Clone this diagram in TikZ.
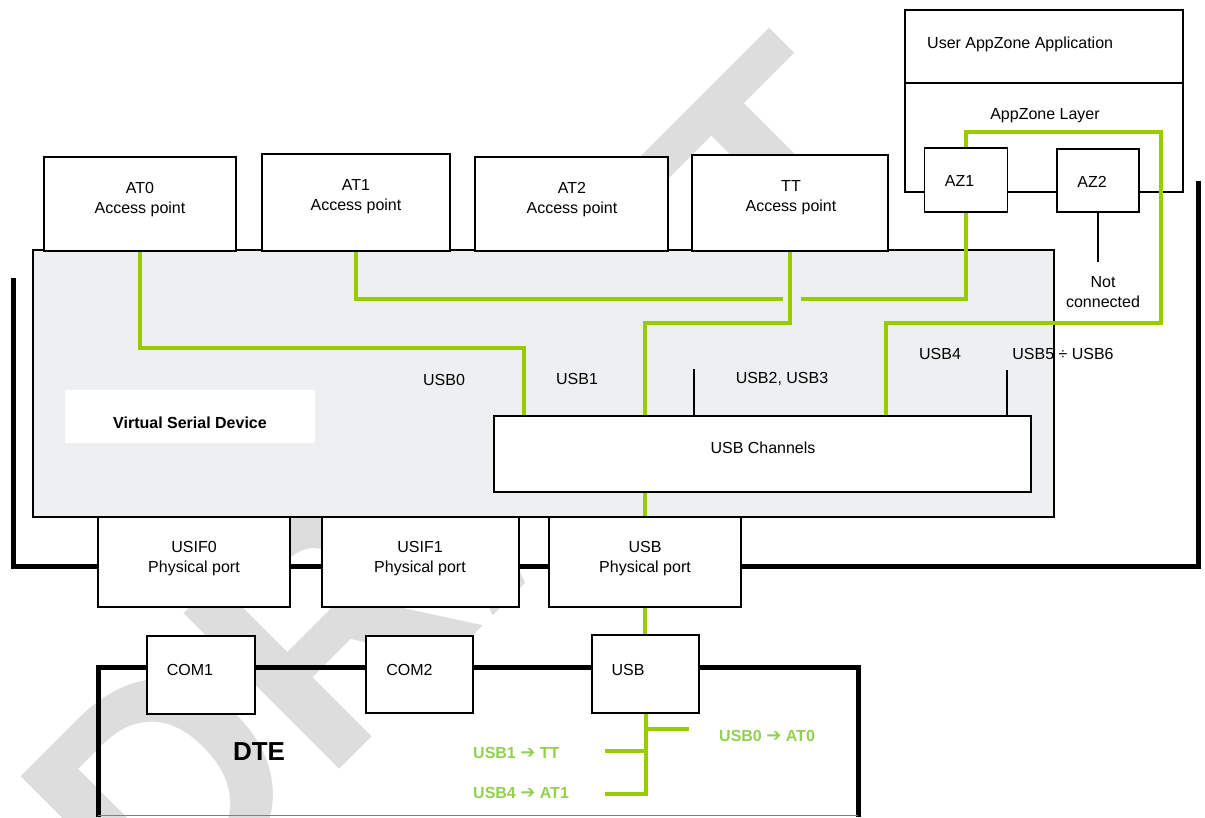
\documentclass[tikz,border=0pt]{standalone}
\usepackage{fontspec}
\setmainfont{Liberation Sans}
\newfontfamily\arrowfont{DejaVu Sans}
\usetikzlibrary{calc}
\definecolor{vsdgray}{HTML}{EEEFF1}
\definecolor{wmgray}{HTML}{DDDDDD}
\definecolor{lgreen}{HTML}{99CC00}
\definecolor{lbltxt}{HTML}{92D050}
\newcommand\garrow{{\arrowfont\fontsize{18}{20}\selectfont ➔}}
\tikzset{
  box/.style={draw=black, line width=1.6pt, fill=white, inner sep=0pt},
  txt/.style={font=\fontsize{16}{20}\selectfont, inner sep=0pt, align=center},
  gline/.style={draw=lgreen, line width=4pt},
  blk/.style={draw=black, line width=5pt},
  thinl/.style={draw=black, line width=1.6pt},
  glbl/.style={font=\bfseries\fontsize{16}{20}\selectfont, text=lbltxt, inner sep=0pt, anchor=west},
  wm/.style={font=\bfseries\fontsize{320}{320}\selectfont, text=wmgray, inner sep=0pt, anchor=base west, rotate=45}
}
\begin{document}
\begin{tikzpicture}[x=1pt,y=-1pt]
\useasboundingbox (0,0) rectangle (1205,817);
% watermark
\node[wm] (wmark) at (161,948) {DRAFT};

% thick black frame lines
\coordinate (blkL) at (13,278);
\coordinate (blkLB) at (13,566);
\coordinate (blkRB) at (1198,566);
\coordinate (blkR) at (1198,181);
\draw[blk] (blkL) -- (blkLB) -- (blkRB) -- (blkR);

% DTE frame
\coordinate (dteBL) at (98,817);
\coordinate (dteTL) at (98,667);
\coordinate (dteTR) at (858,667);
\coordinate (dteBR) at (858,817);
\draw[blk] (dteBL) -- (dteTL) -- (dteTR) -- (dteBR);
\coordinate (dteB1) at (98,815);
\coordinate (dteB2) at (858,815);
\draw[draw=gray, line width=1pt] (dteB1) -- (dteB2);
\node[font=\bfseries\fontsize{26}{30}\selectfont, inner sep=0pt] (dtet) at (259,752) {DTE};

% Virtual serial device
\node[draw=black, line width=1.6pt, fill=vsdgray, minimum width=1021pt, minimum height=267pt, inner sep=0pt] (vsd) at (543.5,383.5) {};
\node[fill=white, minimum width=250pt, minimum height=53pt, inner sep=0pt] (vsdl) at (190,416.5) {};
\node[font=\bfseries\fontsize{16}{20}\selectfont, inner sep=0pt] (vsdt) at (190,423) {Virtual Serial Device};

% AppZone application box
\node[box, minimum width=278pt, minimum height=182pt] (app) at (1044,101) {};
\draw[thinl] (app.west |- 0,83) -- (app.east |- 0,83);
\node[txt, anchor=west] (appt) at (927,44) {User AppZone Application};
\node[txt] (layt) at (1045,116) {AppZone Layer};

% named coordinates on USB Channels top
\coordinate (c0) at (524,416);
\coordinate (c1) at (645,416);
\coordinate (c23) at (694,416);
\coordinate (c4) at (886,416);
\coordinate (c56) at (1007,416);
\coordinate (gapL) at (783,299);
\coordinate (gapR) at (801,299);
\coordinate (br0) at (689,729);
\coordinate (br1) at (605,751);
\coordinate (br4) at (605,794);

% boxes (positions)
\path (140,204) coordinate (at0c) (356,202.5) coordinate (at1c)
      (571.5,204) coordinate (at2c) (790,203) coordinate (ttc);

% invisible anchors for connectors
\path node[minimum width=192pt, minimum height=94pt, inner sep=0pt] (at0) at (at0c) {}
      node[minimum width=188pt, minimum height=97pt, inner sep=0pt] (at1) at (at1c) {}
      node[minimum width=196pt, minimum height=96pt, inner sep=0pt] (tt) at (ttc) {}
      node[minimum width=83pt, minimum height=64pt, inner sep=0pt] (az1) at (966,180) {}
      node[minimum width=82pt, minimum height=63pt, inner sep=0pt] (az2) at (1098,180.5) {}
      node[minimum width=537pt, minimum height=76pt, inner sep=0pt] (chan) at (762.5,454) {}
      node[minimum width=192pt, minimum height=90pt, inner sep=0pt] (usbp) at (645,562) {}
      node[minimum width=107pt, minimum height=78pt, inner sep=0pt] (usbd) at (645.5,674) {};

\draw[gline] (at0.south) -- (at0.south |- 0,348) -| (c0);
\draw[gline] (at1.south) |- (gapL);
\draw[gline] (az1.south) |- (gapR);
\draw[gline] (tt.south) -- (tt.south |- 0,323) -| (c1);
\draw[gline] (c4) |- (1161,323) |- (az1.north |- 0,132) -- (az1.north);
\draw[gline] (usbp.north |- chan.south) -- (usbp.north);
\draw[gline] (usbp.south) -- (usbp.south |- usbd.north);
\draw[gline] (usbd.south) |- (br4);
\draw[gline] (usbd.south |- br0) -- (br0);
\draw[gline] (usbd.south |- br1) -- (br1);

% thin black connectors
\draw[thinl] (c23) -- ++(0,-47);
\draw[thinl] (c56) -- ++(0,-46);
\draw[thinl] (az2.south) -- ++(0,50);

% white boxes
\node[box, minimum width=192pt, minimum height=94pt] (at0b) at (at0c) {};
\node[box, minimum width=188pt, minimum height=97pt] (at1b) at (at1c) {};
\node[box, minimum width=193pt, minimum height=94pt] (at2b) at (at2c) {};
\node[box, minimum width=196pt, minimum height=96pt] (ttb) at (ttc) {};
\node[box, minimum width=83pt, minimum height=64pt] (az1b) at (966,180) {};
\node[box, minimum width=82pt, minimum height=63pt] (az2b) at (1098,180.5) {};
\node[box, minimum width=537pt, minimum height=76pt] (chanb) at (762.5,454) {};
\node[box, minimum width=192pt, minimum height=90pt] (usif0) at (194,562) {};
\node[box, minimum width=197pt, minimum height=90pt] (usif1) at (420.5,562) {};
\node[box, minimum width=192pt, minimum height=90pt] (usbpb) at (645,562) {};
\node[box, minimum width=108pt, minimum height=78pt] (com1) at (201,675) {};
\node[box, minimum width=107pt, minimum height=77pt] (com2) at (419.5,674.5) {};
\node[box, minimum width=107pt, minimum height=78pt] (usbdb) at (645.5,674) {};

% box texts
\node[txt] (at0t) at (140,199.5) {AT0\\Access point};
\node[txt] (at1t) at (356,197) {AT1\\Access point};
\node[txt] (at2t) at (572,199.5) {AT2\\Access point};
\node[txt] (ttt) at (791,198) {TT\\Access point};
\node[txt] (az1t) at (959.5,181) {AZ1};
\node[txt] (az2t) at (1092,182) {AZ2};
\node[txt] (nct) at (1103,292) {Not\\connected};
\node[txt] (chant) at (763,448) {USB Channels};
\node[txt] (usif0t) at (194,559) {USIF0\\Physical port};
\node[txt] (usif1t) at (420,559) {USIF1\\Physical port};
\node[txt] (usbpt) at (645,559) {USB\\Physical port};
\node[txt] (com1t) at (190,670) {COM1};
\node[txt] (com2t) at (409.5,670) {COM2};
\node[txt] (usbdt) at (628,670) {USB};

% channel labels
\node[txt] (l0) at (444,380) {USB0};
\node[txt] (l1) at (577,379) {USB1};
\node[txt] (l23) at (782,379) {USB2, USB3};
\node[txt] (l4) at (940,354) {USB4};
\node[txt] (l56) at (1063,354) {USB5 ÷ USB6};

% green labels
\node[glbl] (g0) at (719,736) {USB0 \garrow{} AT0};
\node[glbl] (g1) at (473,753) {USB1 \garrow{} TT};
\node[glbl] (g4) at (473,793) {USB4 \garrow{} AT1};
\end{tikzpicture}
\end{document}
